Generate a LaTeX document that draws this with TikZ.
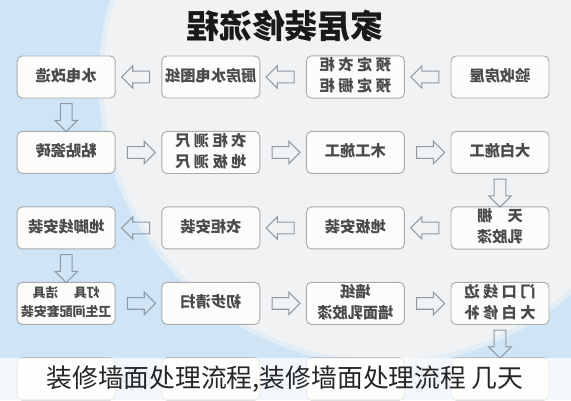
\documentclass[tikz,border=0pt]{standalone}
\usepackage{fontspec}
\usetikzlibrary{positioning,shapes.arrows,calc}
\newfontfamily\cjk{Noto Sans CJK SC}
\definecolor{skyblue}{HTML}{CFE5F6}
\definecolor{mist}{HTML}{F1F2F4}
\definecolor{boxline}{HTML}{A9ABAD}
\definecolor{boxfill}{HTML}{FCFCFA}
\definecolor{boxtext}{HTML}{4A4A4A}
\definecolor{arrowline}{HTML}{8D9AA5}
% mirrored text, as in the picture
\newcommand{\flip}[1]{\reflectbox{\begin{tabular}{@{}c@{}}#1\end{tabular}}}

\begin{document}
\begin{tikzpicture}[
    box/.style={draw=boxline,fill=boxfill,line width=0.8pt,rounded corners=0.15cm,minimum width=2.94cm,minimum height=1.26cm,inner sep=0pt,text=boxtext,font=\cjk\fontsize{13}{18}\selectfont\bfseries},
    harrow/.style={single arrow,draw=arrowline,line width=0.9pt,minimum height=0.84cm,minimum width=0.64cm,inner sep=0.16cm,single arrow head extend=0.16cm},
  ]
  \useasboundingbox (0,0) rectangle (17.13,12);
  \clip (0,0) rectangle (17.13,12);
  % background
  \fill[skyblue] (0,0) rectangle (17.13,12);
  \fill[mist!60!skyblue] (11.5,9.6) circle (8.55cm);
  \fill[mist] (11.5,9.6) circle (8.4cm);

  \node[font=\cjk\fontsize{28}{28}\selectfont\bfseries,text=black!90] (title) at (8.55,11.22) {\reflectbox{家居装修流程}};

  % row 1
  \node[box] (inspect) at (15.0,9.69) {\flip{验收房屋}};
  \node[box,left=1.37cm of inspect] (cabinets) {\flip{预 定 衣 柜\\预 定 橱 柜}};
  \node[box,left=1.37cm of cabinets] (plan) {\flip{厨房水电图纸}};
  \node[box,left=1.37cm of plan] (wiring) {\flip{水电改造}};
  % row 2
  \node[box,below=0.975cm of wiring] (tiles) {\flip{粘贴瓷砖}};
  \node[box,right=1.37cm of tiles] (measure) {\flip{衣 柜 测 尺\\地 板 测 尺}};
  \node[box,right=1.37cm of measure] (carpentry) {\flip{木工施工}};
  \node[box,right=1.37cm of carpentry] (plaster) {\flip{大白施工}};
  % row 3
  \node[box,below=0.975cm of plaster] (ceiling) {\flip{天\hspace{1em}棚\\乳胶漆}};
  \node[box,left=1.37cm of ceiling] (floor) {\flip{地板安装}};
  \node[box,left=1.37cm of floor] (wardrobe) {\flip{衣柜安装}};
  \node[box,left=1.37cm of wardrobe] (skirting) {\flip{地脚线安装}};
  % row 4
  \node[box,below=0.975cm of skirting,font=\cjk\fontsize{11}{16}\selectfont\bfseries] (fixtures) {\flip{灯具\hspace{1.2em}洁具\\卫生间配套安装}};
  \node[box,right=1.37cm of fixtures] (cleanup) {\flip{初步清扫}};
  \node[box,right=1.37cm of cleanup] (wallpaper) {\flip{墙纸\\墙面乳胶漆}};
  \node[box,right=1.37cm of wallpaper] (touchup) {\flip{门 口 线 边\\大 白 修 补}};
  % row 5, under the caption
  \node[box,below=0.975cm of touchup] (last4) {};
  \node[box,left=1.37cm of last4] (last3) {};
  \node[box,left=1.37cm of last3] (last2) {};
  \node[box,left=1.37cm of last2] (last1) {};

  % hollow arrows
  \node[harrow,rotate=180] (a1) at ($(inspect)!.5!(cabinets)$) {};
  \node[harrow,rotate=180] (a2) at ($(cabinets)!.5!(plan)$) {};
  \node[harrow,rotate=180] (a3) at ($(plan)!.5!(wiring)$) {};
  \node[harrow,rotate=-90] (a4) at ($(wiring)!.5!(tiles)$) {};
  \node[harrow] (a5) at ($(tiles)!.5!(measure)$) {};
  \node[harrow] (a6) at ($(measure)!.5!(carpentry)$) {};
  \node[harrow] (a7) at ($(carpentry)!.5!(plaster)$) {};
  \node[harrow,rotate=-90] (a8) at ($(plaster)!.5!(ceiling)$) {};
  \node[harrow,rotate=180] (a9) at ($(ceiling)!.5!(floor)$) {};
  \node[harrow,rotate=180] (a10) at ($(floor)!.5!(wardrobe)$) {};
  \node[harrow,rotate=180] (a11) at ($(wardrobe)!.5!(skirting)$) {};
  \node[harrow,rotate=-90] (a12) at ($(skirting)!.5!(fixtures)$) {};
  \node[harrow] (a13) at ($(fixtures)!.5!(cleanup)$) {};
  \node[harrow] (a14) at ($(cleanup)!.5!(wallpaper)$) {};
  \node[harrow] (a15) at ($(wallpaper)!.5!(touchup)$) {};
  \node[harrow,rotate=-90] (a16) at ($(touchup)!.5!(last4)$) {};
  \node[harrow,rotate=180] (a17) at ($(last4)!.5!(last3)$) {};
  \node[harrow,rotate=180] (a18) at ($(last3)!.5!(last2)$) {};
  \node[harrow,rotate=180] (a19) at ($(last2)!.5!(last1)$) {};

  % caption band
  \fill[white,opacity=0.75] (0,0) rectangle (17.13,1.26);
  \node[font=\cjk\fontsize{22}{22}\selectfont,text=black!85] (caption) at (8.55,0.63) {装修墙面处理流程,装修墙面处理流程 几天};
\end{tikzpicture}
\end{document}
